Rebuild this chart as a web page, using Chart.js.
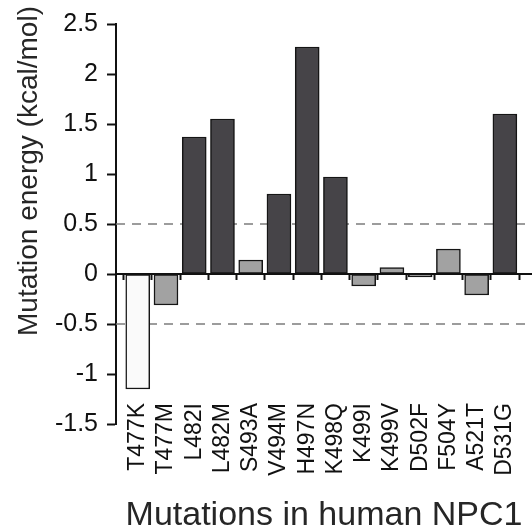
<!DOCTYPE html>
<html>
<head>
<meta charset="utf-8">
<script src="https://cdn.jsdelivr.net/npm/chart.js@4"></script>
<style>
  html, body { margin: 0; padding: 0; background: #fff; overflow: hidden; }
</style>
</head>
<body>
<canvas id="energyChart" width="532" height="531"></canvas>
<script>
const mutations = ['T477K', 'T477M', 'L482I', 'L482M', 'S493A', 'V494M', 'H497N',
  'K498Q', 'K499I', 'K499V', 'D502F', 'F504Y', 'A521T', 'D531G'];
const energies = [-1.15, -0.31, 1.37, 1.55, 0.14, 0.80, 2.27,
  0.97, -0.12, 0.065, -0.03, 0.25, -0.21, 1.60];
// shading class of each bar
const groups = ['light', 'mid', 'dark', 'dark', 'mid', 'dark', 'dark',
  'dark', 'mid', 'mid', 'mid', 'mid', 'mid', 'dark'];
const yTicks = [-1.5, -1, -0.5, 0, 0.5, 1, 1.5, 2, 2.5];
const cutoffs = [0.5, -0.5];

const xTitle = 'Mutations in human NPC1';
const yTitle = 'Mutation energy (kcal/mol)';

const X_MIN = -0.77, X_MAX = 13.96;
const Y_MIN = -1.5, Y_MAX = 2.5;
const FONT = "'Liberation Sans', Arial, sans-serif";
const groupColors = { light: '#fafafa', mid: '#a2a2a2', dark: '#464448' };

Chart.defaults.font.family = FONT;
Chart.defaults.color = '#111';

// y title is drawn by hand: in the original it sits above the axis centre
const yTitlePlugin = {
  id: 'yTitle',
  afterDraw(chart) {
    const ctx = chart.ctx;
    ctx.save();
    ctx.translate(29, 171);
    ctx.rotate(-Math.PI / 2);
    ctx.font = '28px ' + FONT;
    ctx.fillStyle = '#262626';
    ctx.textAlign = 'center';
    ctx.textBaseline = 'middle';
    ctx.fillText(yTitle, 0, 0);
    ctx.restore();
  }
};

const datasets = [{
  type: 'bar',
  data: energies.map((v, i) => ({ x: i, y: v })),
  backgroundColor: groups.map(g => groupColors[g]),
  borderColor: '#151515',
  borderWidth: 1.5,
  borderSkipped: false,
  barThickness: 24,
  order: 1
}];
cutoffs.forEach(c => {
  datasets.push({
    type: 'line',
    data: [{ x: X_MIN, y: c }, { x: X_MAX, y: c }],
    borderColor: '#7c7c7c',
    borderWidth: 1.5,
    borderDash: [9, 7],
    pointRadius: 0,
    order: 2
  });
});

const integerTicks = s => { s.ticks = mutations.map((m, i) => ({ value: i })); };

const ctx = document.getElementById('energyChart').getContext('2d');
window.energyChart = new Chart(ctx, {
  type: 'bar',
  data: { datasets: datasets },
  plugins: [yTitlePlugin],
  options: {
    responsive: false,
    animation: false,
    layout: { padding: { top: 24, left: 0, right: 0, bottom: 0 } },
    plugins: { legend: { display: false }, tooltip: { enabled: false } },
    scales: {
      // bottom box: only holds the axis title
      x: {
        type: 'linear',
        position: 'bottom',
        min: X_MIN,
        max: X_MAX,
        offset: false,
        afterBuildTicks: integerTicks,
        afterFit: s => { s.height = 107; },
        grid: { display: false, drawTicks: false },
        border: { display: false },
        ticks: { display: false },
        title: {
          display: true,
          text: xTitle,
          color: '#262626',
          font: { size: 34, lineHeight: 0.9 },
          padding: { top: 0, bottom: 0 }
        }
      },
      // mutation names, hung from the bottom of the y range
      xNames: {
        type: 'linear',
        position: { y: Y_MIN },
        min: X_MIN,
        max: X_MAX,
        offset: false,
        afterBuildTicks: integerTicks,
        grid: { display: false, drawTicks: false },
        border: { display: false },
        ticks: {
          autoSkip: false,
          minRotation: 90,
          maxRotation: 90,
          padding: -21,
          font: { size: 23 },
          callback: v => mutations[v]
        }
      },
      // axis line through zero
      xZero: {
        type: 'linear',
        position: { y: 0 },
        min: X_MIN,
        max: X_MAX,
        offset: false,
        z: 1,
        afterBuildTicks: integerTicks,
        ticks: { display: false },
        grid: { drawOnChartArea: false, tickLength: 5, tickWidth: 2, tickColor: '#111' },
        border: { color: '#111', width: 2 }
      },
      y: {
        min: Y_MIN,
        max: Y_MAX,
        afterBuildTicks: s => { s.ticks = yTicks.map(v => ({ value: v })); },
        afterFit: s => { s.width = 116; },
        grid: { drawOnChartArea: false, tickLength: 9, tickWidth: 2, tickColor: '#111' },
        border: { color: '#111', width: 2 },
        ticks: {
          padding: 9,
          font: { size: 25 },
          callback: v => String(v)
        }
      }
    }
  }
});
</script>
</body>
</html>
